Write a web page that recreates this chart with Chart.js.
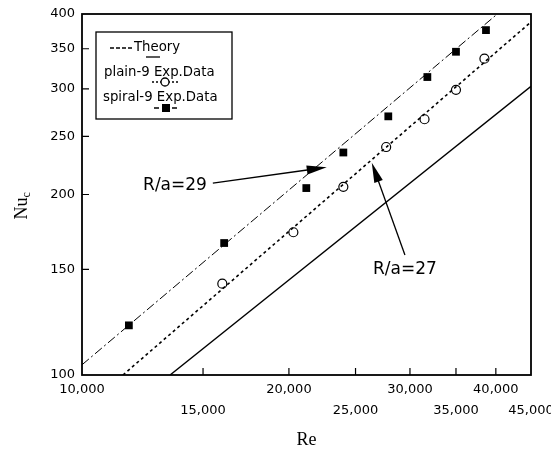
<!DOCTYPE html>
<html lang="en">
<head>
<meta charset="UTF-8">
<title>Nu_c vs Re</title>
<script src="https://cdn.jsdelivr.net/npm/chart.js"></script>
<style>
  html, body { margin: 0; padding: 0; background: #fff; }
  #wrap { width: 551px; height: 451px; }
</style>
</head>
<body>
<div id="wrap"><canvas id="chart" width="551" height="451"></canvas></div>
<script>
// tick labels
const reTicks = [10000, 15000, 20000, 25000, 30000, 35000, 40000, 45000];
const nuTicks = [100, 150, 200, 250, 300, 350, 400];

// spiral-9 experimental data (filled squares)
const spiralRe = [11700, 16100, 21200, 24000, 27900, 31800, 35000, 38700];
const spiralNu = [121, 166, 205, 235, 270, 314, 346, 376];

// plain-9 experimental data (open circles)
const plainRe = [16000, 20300, 24000, 27700, 31500, 35000, 38500];
const plainNu = [142, 173, 206, 240, 267, 299, 337];

// theory lines (end points, straight on log-log)
const theorySpiralRe = [10000, 40200];
const theorySpiralNu = [104, 400];
const theoryPlainRe = [11470, 45000];
const theoryPlainNu = [100, 388];
const theory27Re = [13430, 45000];
const theory27Nu = [100, 303];

const SANS = "'DejaVu Sans', Arial, sans-serif";
const SERIF = "'Liberation Serif', 'DejaVu Serif', serif";

const pts = (xs, ys) => xs.map((v, i) => ({ x: v, y: ys[i] }));
const fmt = v => Number(v).toLocaleString('en-US');

// labels + arrows, in data units
const notes = [
    { text: 'R/a=29', at: [12270, 207], from: [15500, 209], to: [22700, 222] },
    { text: 'R/a=27', at: [26500, 150], from: [29500, 158.5], to: [26400, 226] }
];

function arrow(ctx, x0, y0, x1, y1) {
    const ang = Math.atan2(y1 - y0, x1 - x0);
    const len = 20, hw = 4.5;
    ctx.beginPath();
    ctx.moveTo(x0, y0);
    ctx.lineTo(x1 - Math.cos(ang) * len * 0.8, y1 - Math.sin(ang) * len * 0.8);
    ctx.stroke();
    ctx.beginPath();
    ctx.moveTo(x1, y1);
    ctx.lineTo(x1 - Math.cos(ang) * len - Math.sin(ang) * hw, y1 - Math.sin(ang) * len + Math.cos(ang) * hw);
    ctx.lineTo(x1 - Math.cos(ang) * len + Math.sin(ang) * hw, y1 - Math.sin(ang) * len - Math.cos(ang) * hw);
    ctx.closePath();
    ctx.fill();
}

const paperPlugin = {
    id: 'paper',
    afterDraw(chart) {
        const { ctx, chartArea: a } = chart;
        const x = chart.scales.x, y = chart.scales.y;
        ctx.save();
        ctx.strokeStyle = '#000';
        ctx.fillStyle = '#000';

        // frame
        ctx.lineWidth = 1.8;
        ctx.strokeRect(a.left, a.top, a.right - a.left, a.bottom - a.top);

        // inward tick marks
        ctx.lineWidth = 1.2;
        ctx.beginPath();
        reTicks.slice(1, -1).forEach(v => {
            const px = x.getPixelForValue(v);
            ctx.moveTo(px, a.bottom);
            ctx.lineTo(px, a.bottom - 7);
        });
        nuTicks.slice(1, -1).forEach(v => {
            const py = y.getPixelForValue(v);
            ctx.moveTo(a.left, py);
            ctx.lineTo(a.left + 7, py);
        });
        ctx.stroke();

        // axis titles
        ctx.textBaseline = 'middle';
        ctx.textAlign = 'center';
        ctx.font = '18px ' + SERIF;
        ctx.fillText('Re', (a.left + a.right) / 2, 440);

        ctx.save();
        ctx.translate(22, 205);
        ctx.rotate(-Math.PI / 2);
        ctx.textAlign = 'left';
        ctx.font = '18px ' + SERIF;
        const wNu = ctx.measureText('Nu').width;
        ctx.fillText('Nu', -(wNu + 7) / 2, 0);
        ctx.font = '12px ' + SERIF;
        ctx.fillText('c', -(wNu + 7) / 2 + wNu, 5);
        ctx.restore();

        // annotations
        ctx.font = '17px ' + SANS;
        ctx.textAlign = 'left';
        ctx.lineWidth = 1.3;
        notes.forEach(n => {
            ctx.fillText(n.text, x.getPixelForValue(n.at[0]), y.getPixelForValue(n.at[1]));
            arrow(ctx,
                x.getPixelForValue(n.from[0]), y.getPixelForValue(n.from[1]),
                x.getPixelForValue(n.to[0]), y.getPixelForValue(n.to[1]));
        });

        // legend box
        ctx.lineWidth = 1.3;
        ctx.strokeRect(96, 32, 136, 87);
        ctx.font = '13.3px ' + SANS;
        ctx.textAlign = 'left';

        ctx.setLineDash([4, 2]);
        ctx.beginPath();
        ctx.moveTo(110, 48);
        ctx.lineTo(132, 48);
        ctx.stroke();
        ctx.setLineDash([]);
        ctx.fillText('Theory', 134, 48);
        ctx.beginPath();
        ctx.moveTo(146, 57);
        ctx.lineTo(160, 57);
        ctx.stroke();

        ctx.fillText('plain-9 Exp.Data', 104, 73);
        ctx.setLineDash([2, 2]);
        ctx.beginPath();
        ctx.moveTo(152, 82);
        ctx.lineTo(180, 82);
        ctx.stroke();
        ctx.setLineDash([]);
        ctx.beginPath();
        ctx.arc(165, 82, 4, 0, Math.PI * 2);
        ctx.fillStyle = '#fff';
        ctx.fill();
        ctx.stroke();
        ctx.fillStyle = '#000';

        ctx.fillText('spiral-9 Exp.Data', 103, 98);
        ctx.setLineDash([5, 4]);
        ctx.beginPath();
        ctx.moveTo(154, 108);
        ctx.lineTo(180, 108);
        ctx.stroke();
        ctx.setLineDash([]);
        ctx.fillRect(162, 104, 8, 8);

        ctx.restore();
    }
};

new Chart(document.getElementById('chart'), {
    type: 'scatter',
    data: {
        datasets: [
            {
                label: 'Theory R/a=29',
                data: pts(theorySpiralRe, theorySpiralNu),
                showLine: true, borderColor: '#000', borderWidth: 1,
                borderDash: [9, 3, 2, 3], pointRadius: 0
            },
            {
                label: 'Theory plain',
                data: pts(theoryPlainRe, theoryPlainNu),
                showLine: true, borderColor: '#000', borderWidth: 1.6,
                borderDash: [3, 3], pointRadius: 0
            },
            {
                label: 'Theory R/a=27',
                data: pts(theory27Re, theory27Nu),
                showLine: true, borderColor: '#000', borderWidth: 1.4,
                pointRadius: 0
            },
            {
                label: 'spiral-9 Exp.Data',
                data: pts(spiralRe, spiralNu),
                showLine: false, pointStyle: 'rect', pointRadius: 5.5,
                backgroundColor: '#000', borderColor: '#000', borderWidth: 0
            },
            {
                label: 'plain-9 Exp.Data',
                data: pts(plainRe, plainNu),
                showLine: false, pointStyle: 'circle', pointRadius: 4.5,
                backgroundColor: '#fff', borderColor: '#000', borderWidth: 1.2
            }
        ]
    },
    options: {
        responsive: false,
        animation: false,
        layout: { padding: { top: 14, right: 20, left: 0, bottom: 0 } },
        plugins: { legend: { display: false }, tooltip: { enabled: false } },
        scales: {
            x: {
                type: 'logarithmic', min: 10000, max: 45000,
                afterBuildTicks: s => { s.ticks = reTicks.map(v => ({ value: v })); },
                afterFit: s => { s.height = 76; s.paddingLeft = 0; s.paddingRight = 0; },
                grid: { display: false, drawTicks: false },
                border: { display: false },
                ticks: {
                    autoSkip: false, maxRotation: 0, minRotation: 0, padding: 4,
                    color: '#000', font: { family: SANS, size: 13, lineHeight: 1.6 },
                    callback: (v, i) => i % 2 ? ['', fmt(v)] : fmt(v)
                }
            },
            y: {
                type: 'logarithmic', min: 100, max: 400,
                afterBuildTicks: s => { s.ticks = nuTicks.map(v => ({ value: v })); },
                afterFit: s => { s.width = 82; s.paddingTop = 0; s.paddingBottom = 0; },
                grid: { display: false, drawTicks: false },
                border: { display: false },
                ticks: {
                    autoSkip: false, padding: 7,
                    color: '#000', font: { family: SANS, size: 13 },
                    callback: v => String(v)
                }
            }
        }
    },
    plugins: [paperPlugin]
});
</script>
</body>
</html>
